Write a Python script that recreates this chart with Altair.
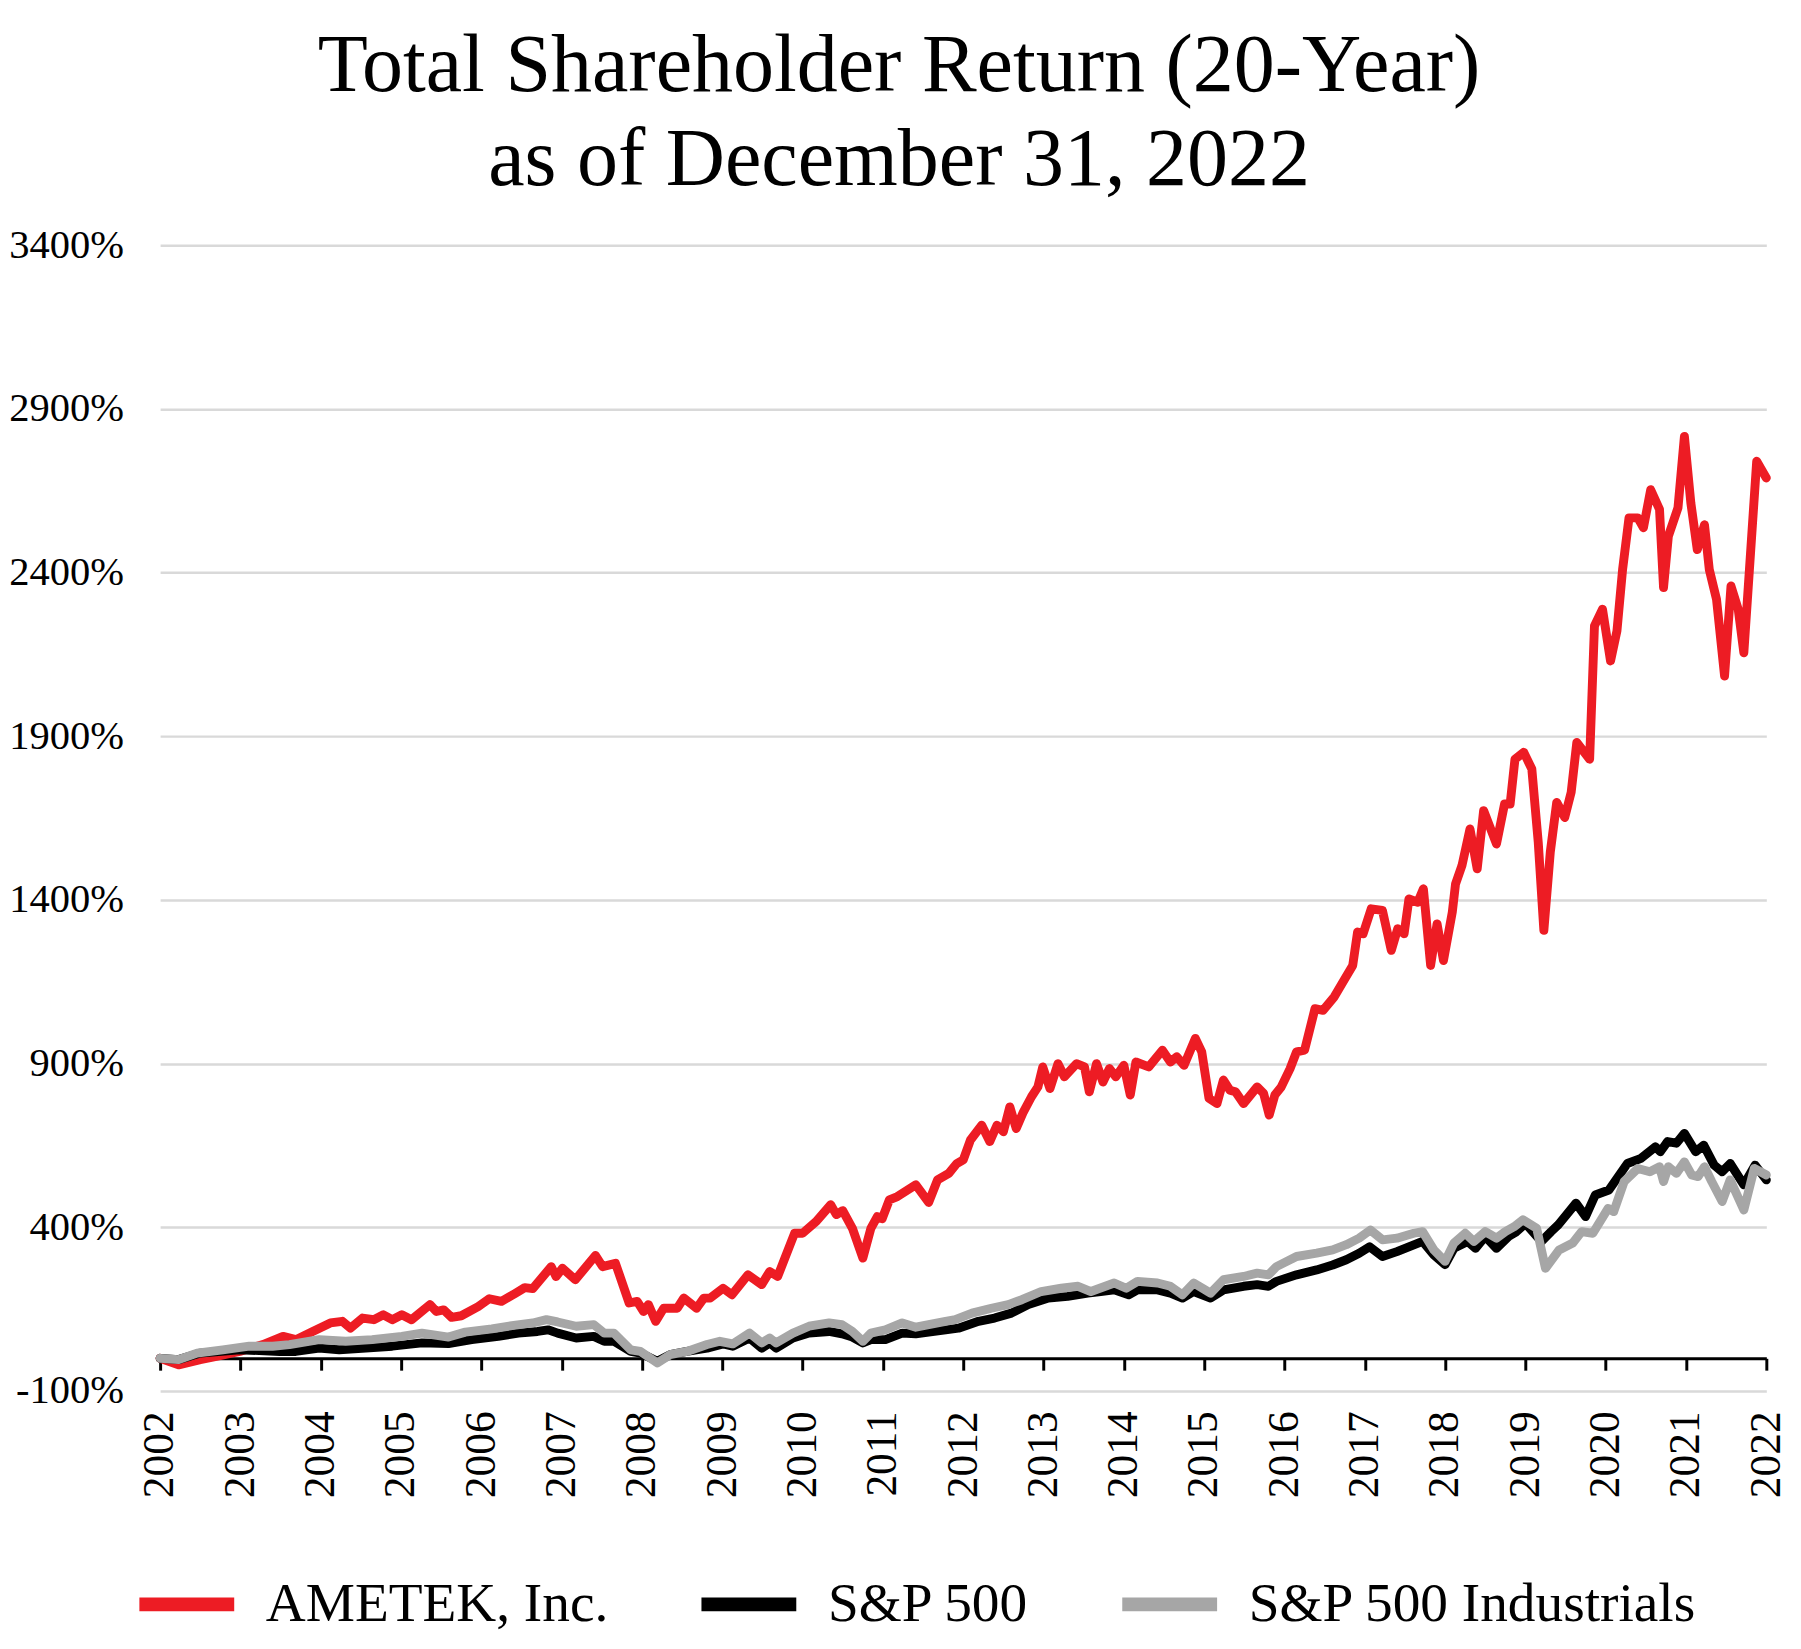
import altair as alt
import pandas as pd

TITLE = ["Total Shareholder Return (20-Year)", "as of December 31, 2022"]
SERIES = ["AMETEK, Inc.", "S&P 500", "S&P 500 Industrials"]
COLORS = ["#ED1C24", "#000000", "#A6A6A6"]
YEAR_TICKS = list(range(2002, 2023))
Y_TICKS = [-100, 400, 900, 1400, 1900, 2400, 2900, 3400]

ametek_t = [2002.00, 2002.23, 2002.50, 2002.70, 2002.99, 2003.28, 2003.53, 2003.69, 2003.90, 2004.12,
            2004.27, 2004.37, 2004.52, 2004.66, 2004.78, 2004.89, 2005.01, 2005.13, 2005.36, 2005.44,
            2005.53, 2005.63, 2005.75, 2005.96, 2006.10, 2006.25, 2006.40, 2006.54, 2006.64, 2006.87,
            2006.93, 2007.01, 2007.17, 2007.42, 2007.51, 2007.67, 2007.84, 2007.94, 2008.02, 2008.08,
            2008.17, 2008.27, 2008.44, 2008.52, 2008.68, 2008.77, 2008.85, 2009.01, 2009.12, 2009.32,
            2009.49, 2009.59, 2009.69, 2009.90, 2010.00, 2010.17, 2010.35, 2010.42, 2010.50, 2010.62,
            2010.75, 2010.85, 2010.93, 2010.99, 2011.08, 2011.18, 2011.41, 2011.57, 2011.68, 2011.82,
            2011.92, 2012.00, 2012.09, 2012.23, 2012.33, 2012.42, 2012.50, 2012.58, 2012.66, 2012.75,
            2012.85, 2012.93, 2012.99, 2013.08, 2013.18, 2013.26, 2013.41, 2013.51, 2013.57, 2013.66,
            2013.74, 2013.82, 2013.90, 2014.00, 2014.08, 2014.15, 2014.31, 2014.48, 2014.58, 2014.66,
            2014.75, 2014.89, 2014.97, 2015.06, 2015.16, 2015.24, 2015.32, 2015.39, 2015.49, 2015.66,
            2015.74, 2015.81, 2015.88, 2015.96, 2016.07, 2016.15, 2016.25, 2016.38, 2016.48, 2016.62,
            2016.73, 2016.85, 2016.91, 2016.98, 2017.08, 2017.22, 2017.33, 2017.41, 2017.49, 2017.55,
            2017.66, 2017.73, 2017.82, 2017.90, 2017.98, 2018.09, 2018.13, 2018.21, 2018.31, 2018.40,
            2018.48, 2018.64, 2018.74, 2018.81, 2018.87, 2018.98, 2019.08, 2019.16, 2019.23, 2019.31,
            2019.39, 2019.49, 2019.57, 2019.64, 2019.80, 2019.86, 2019.96, 2020.06, 2020.14, 2020.21,
            2020.29, 2020.40, 2020.47, 2020.56, 2020.67, 2020.72, 2020.78, 2020.90, 2020.98, 2021.06,
            2021.14, 2021.23, 2021.29, 2021.38, 2021.48, 2021.56, 2021.65, 2021.72, 2021.88, 2022.00]
ametek_v = [0, -20, -4, 6, 21, 42, 67, 57, 82, 108,
            113, 92, 123, 118, 133, 118, 133, 118, 164, 143,
            148, 125, 130, 158, 182, 174, 195, 216, 213, 280,
            250, 275, 240, 314, 280, 290, 169, 174, 143, 164,
            113, 153, 153, 184, 153, 184, 184, 214, 194, 255,
            225, 265, 250, 382, 382, 418, 469, 439, 451, 397,
            306, 397, 433, 426, 484, 494, 530, 476, 545, 565,
            595, 606, 667, 712, 662, 712, 692, 768, 702, 753,
            799, 829, 890, 824, 900, 860, 900, 890, 814, 900,
            844, 885, 860, 895, 804, 905, 890, 941, 905, 921,
            895, 977, 936, 794, 778, 850, 819, 814, 778, 829,
            809, 743, 804, 829, 885, 936, 941, 1068, 1063, 1104,
            1150, 1200, 1302, 1297, 1373, 1368, 1246, 1312, 1297, 1403,
            1393, 1434, 1200, 1327, 1215, 1363, 1449, 1505, 1617, 1495,
            1673, 1571, 1693, 1693, 1830, 1851, 1800, 1576, 1307, 1546,
            1698, 1652, 1729, 1881, 1830, 2237, 2288, 2130, 2222, 2409,
            2567, 2567, 2537, 2653, 2593, 2354, 2511, 2598, 2816, 2613,
            2470, 2546, 2409, 2318, 2084, 2359, 2288, 2155, 2740, 2689]

sp500_t = [2002.00, 2002.23, 2002.50, 2002.99, 2003.49, 2003.69, 2003.98, 2004.23, 2004.56, 2004.89,
           2005.26, 2005.59, 2005.88, 2006.21, 2006.46, 2006.70, 2006.83, 2006.95, 2007.18, 2007.40,
           2007.53, 2007.65, 2007.86, 2007.98, 2008.19, 2008.35, 2008.56, 2008.81, 2009.01, 2009.13,
           2009.34, 2009.49, 2009.59, 2009.67, 2009.88, 2010.08, 2010.33, 2010.49, 2010.62, 2010.75,
           2010.85, 2011.03, 2011.24, 2011.41, 2011.57, 2011.78, 2011.94, 2012.19, 2012.39, 2012.60,
           2012.81, 2013.06, 2013.30, 2013.55, 2013.71, 2013.88, 2014.06, 2014.17, 2014.42, 2014.58,
           2014.73, 2014.87, 2015.08, 2015.24, 2015.49, 2015.66, 2015.80, 2015.90, 2016.15, 2016.40,
           2016.60, 2016.77, 2016.93, 2017.06, 2017.22, 2017.40, 2017.72, 2017.86, 2018.00, 2018.11,
           2018.28, 2018.38, 2018.50, 2018.64, 2018.79, 2018.89, 2019.00, 2019.20, 2019.32, 2019.41,
           2019.63, 2019.75, 2019.87, 2020.04, 2020.27, 2020.44, 2020.62, 2020.68, 2020.77, 2020.88,
           2020.98, 2021.12, 2021.22, 2021.35, 2021.45, 2021.55, 2021.72, 2021.86, 2022.00]
sp500_v = [0, -4, 16, 26, 21, 21, 31, 26, 31, 37,
           47, 45, 57, 67, 77, 82, 87, 77, 62, 67,
           52, 52, 21, 16, -9, 11, 21, 31, 44, 37,
           62, 31, 47, 31, 62, 77, 82, 75, 65, 47,
           57, 57, 77, 75, 80, 87, 92, 113, 123, 138,
           164, 184, 189, 199, 204, 209, 194, 209, 209, 199,
           184, 204, 184, 209, 220, 225, 220, 235, 255, 270,
           285, 301, 321, 341, 311, 326, 357, 316, 286, 336,
           357, 336, 372, 336, 372, 387, 412, 357, 387, 408,
           474, 433, 499, 514, 595, 611, 646, 631, 662, 657,
           687, 631, 651, 590, 570, 595, 530, 590, 545]

indus_t = [2002.00, 2002.23, 2002.46, 2002.78, 2003.11, 2003.40, 2003.61, 2003.98, 2004.31, 2004.64,
           2005.01, 2005.26, 2005.59, 2005.80, 2006.13, 2006.38, 2006.64, 2006.81, 2006.95, 2007.18,
           2007.40, 2007.53, 2007.65, 2007.86, 2007.98, 2008.19, 2008.35, 2008.56, 2008.81, 2008.97,
           2009.13, 2009.34, 2009.49, 2009.59, 2009.67, 2009.88, 2010.08, 2010.33, 2010.49, 2010.62,
           2010.75, 2010.85, 2011.03, 2011.24, 2011.41, 2011.57, 2011.78, 2011.90, 2012.11, 2012.35,
           2012.56, 2012.73, 2012.97, 2013.22, 2013.43, 2013.59, 2013.88, 2014.03, 2014.17, 2014.42,
           2014.58, 2014.73, 2014.87, 2015.08, 2015.24, 2015.49, 2015.66, 2015.80, 2015.90, 2016.15,
           2016.40, 2016.60, 2016.77, 2016.93, 2017.07, 2017.22, 2017.40, 2017.61, 2017.72, 2017.86,
           2018.00, 2018.11, 2018.25, 2018.36, 2018.50, 2018.64, 2018.75, 2018.86, 2018.97, 2019.14,
           2019.25, 2019.42, 2019.59, 2019.70, 2019.84, 2020.03, 2020.10, 2020.23, 2020.40, 2020.55,
           2020.67, 2020.72, 2020.78, 2020.88, 2020.98, 2021.07, 2021.15, 2021.23, 2021.32, 2021.45,
           2021.55, 2021.72, 2021.85, 2022.00]
indus_v = [0, -4, 16, 26, 37, 37, 42, 57, 52, 57,
           67, 77, 65, 80, 90, 100, 108, 118, 111, 98,
           103, 77, 77, 26, 21, -14, 11, 21, 42, 52,
           44, 77, 47, 62, 47, 77, 98, 108, 103, 82,
           52, 77, 87, 108, 95, 103, 113, 118, 138, 153,
           164, 179, 204, 214, 220, 204, 230, 214, 235, 230,
           220, 194, 230, 199, 240, 250, 260, 255, 280, 311,
           321, 331, 347, 367, 392, 362, 367, 382, 387, 331,
           296, 352, 382, 357, 387, 367, 387, 402, 423, 397,
           275, 331, 352, 387, 382, 458, 448, 540, 580, 570,
           585, 540, 585, 565, 600, 560, 555, 585, 540, 479,
           545, 453, 580, 560]

rows = []
for name, ts, vs in zip(SERIES, [ametek_t, sp500_t, indus_t], [ametek_v, sp500_v, indus_v]):
    for t, v in zip(ts, vs):
        rows.append({"series": name, "year": t, "tsr": v})
df = pd.DataFrame(rows)

W, H = 1626, 1160
FONT = "Liberation Serif"
XDOM = [2002, 2022]
YDOM = [-100, 3400]

x_scale = alt.Scale(domain=XDOM, nice=False, zero=False)
y_scale = alt.Scale(domain=YDOM, nice=False, zero=False)

lines = alt.Chart(df).mark_line(strokeWidth=9, strokeJoin="round", strokeCap="round").encode(
    x=alt.X("year:Q", scale=x_scale,
            axis=alt.Axis(orient="bottom", values=YEAR_TICKS, format="d", labelAngle=-90,
                          labelFont=FONT, labelFontSize=44, labelColor="black", labelPadding=20,
                          labelOverlap=False, labelFlush=False, domain=False, ticks=False,
                          tickSize=0, grid=False, title=None)),
    y=alt.Y("tsr:Q", scale=y_scale,
            axis=alt.Axis(values=Y_TICKS, labelExpr="datum.value + '%'", labelFont=FONT,
                          labelFontSize=41, labelColor="black", labelPadding=37, domain=False,
                          ticks=False, tickSize=0, grid=True, gridColor="#D9D9D9", gridWidth=2.5,
                          title=None)),
    color=alt.Color("series:N", scale=alt.Scale(domain=SERIES, range=COLORS),
                    legend=alt.Legend(title=None, orient="none", legendX=-28, legendY=1321,
                                      direction="horizontal", symbolType="stroke",
                                      symbolSize=9216, symbolStrokeWidth=14,
                                      labelFont=FONT, labelFontSize=56, labelColor="black",
                                      labelOffset=25, columnPadding=66, labelLimit=0)),
)

zero_df = pd.DataFrame({"year": YEAR_TICKS})
zero_axis = alt.Chart(zero_df).mark_point(opacity=0).encode(
    x=alt.X("year:Q", scale=x_scale,
            axis=alt.Axis(orient="bottom", values=YEAR_TICKS, labels=False, domain=True,
                          domainColor="black", domainWidth=3, ticks=True, tickColor="black",
                          tickWidth=3, tickSize=12, grid=False, title=None,
                          offset=-(H * 100 / (YDOM[1] - YDOM[0])))),
)

chart = alt.layer(zero_axis, lines).resolve_axis(x="independent").properties(
    width=W, height=H,
    padding={"left": 0, "top": 8, "right": 5, "bottom": 5},
    title=alt.Title(TITLE, font=FONT, fontSize=83, fontWeight="normal", color="black",
                    lineHeight=95, anchor="middle", offset=23, dx=-65),
).configure_view(stroke=None)

chart.save("out.html", embed_options={"renderer": "svg", "actions": False})
